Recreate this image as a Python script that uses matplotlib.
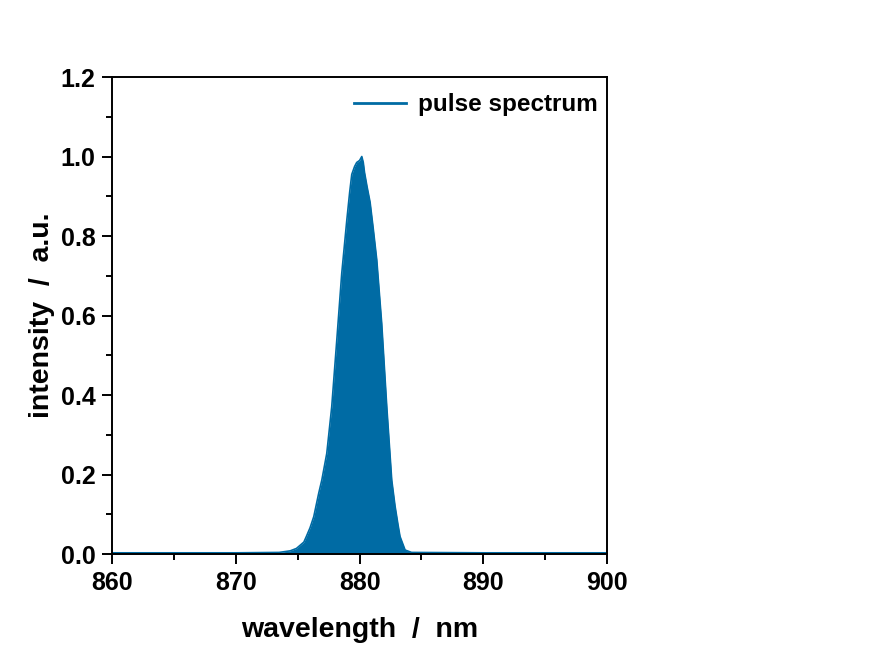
import numpy as np
import matplotlib.pyplot as plt
from matplotlib.ticker import MultipleLocator

wavelength = [860.0, 865.0, 870.0, 873.5, 874.4, 874.9, 875.5, 875.7, 876.0, 876.3, 876.7,
              876.95, 877.35, 877.75, 878.16, 878.56, 878.97, 879.2, 879.37, 879.6, 879.77,
              880.0, 880.18, 880.3, 880.4, 880.6, 880.85, 881.1, 881.39, 881.79, 882.2,
              882.6, 882.87, 883.1, 883.27, 883.68, 884.2, 890.0, 895.0, 900.0]
intensity = [0.003, 0.003, 0.003, 0.004, 0.008, 0.014, 0.030, 0.044, 0.066, 0.094, 0.153,
             0.186, 0.253, 0.370, 0.538, 0.706, 0.840, 0.910, 0.955, 0.975, 0.985,
             0.990, 1.000, 0.985, 0.960, 0.925, 0.885, 0.820, 0.740, 0.580, 0.370,
             0.186, 0.120, 0.075, 0.044, 0.010, 0.004, 0.003, 0.003, 0.003]

color = '#006ba4'
plt.rcParams['font.family'] = ['Liberation Sans', 'DejaVu Sans']
plt.rcParams['font.weight'] = 'bold'

fig = plt.figure(figsize=(8.92, 6.65), dpi=100)
ax = fig.add_axes([0.1256, 0.1669, 0.555, 0.7173])

ax.fill_between(wavelength, 0, intensity, color=color, linewidth=0)
ax.plot(wavelength, intensity, color=color, lw=1.2, label='pulse spectrum')

ax.set_xlim(860, 900)
ax.set_ylim(0, 1.2)
ax.xaxis.set_major_locator(MultipleLocator(10))
ax.xaxis.set_minor_locator(MultipleLocator(5))
ax.yaxis.set_major_locator(MultipleLocator(0.2))
ax.yaxis.set_minor_locator(MultipleLocator(0.1))
ax.yaxis.set_major_formatter(plt.FormatStrFormatter('%.1f'))
ax.tick_params(which='major', direction='out', length=7, width=1.4, labelsize=18, pad=5)
ax.tick_params(which='minor', direction='out', length=4, width=1.4)
for s in ax.spines.values():
    s.set_linewidth(1.4)
for lab in ax.get_xticklabels() + ax.get_yticklabels():
    lab.set_fontweight('bold')

ax.set_xlabel('wavelength  /  nm', fontsize=20.5, fontweight='bold', labelpad=16)
ax.set_ylabel('intensity  /  a.u.', fontsize=20.5, fontweight='bold', labelpad=4)

leg = ax.legend(loc='upper right', bbox_to_anchor=(1.008, 0.994), frameon=False,
                handlelength=2.15, handletextpad=0.5, borderaxespad=0.15,
                prop={'weight': 'bold', 'size': 17.5})
for h in leg.get_lines():
    h.set_linewidth(2.0)

fig.savefig('out.png', dpi=100)
